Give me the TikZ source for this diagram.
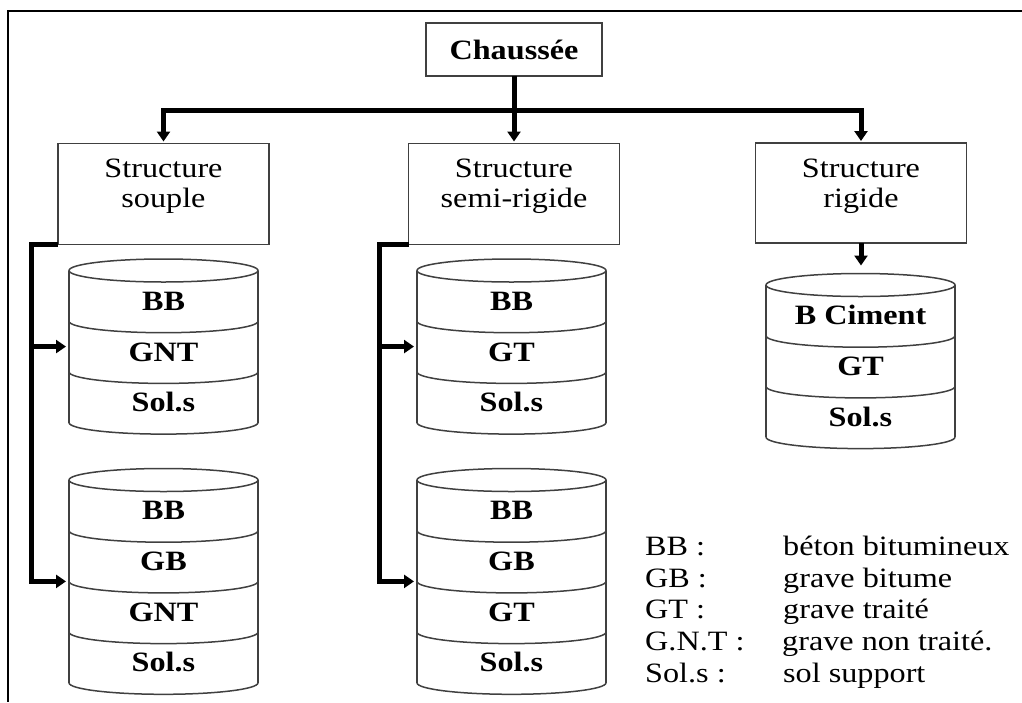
\documentclass[tikz,border=0pt]{standalone}
\usepackage{fontspec}
\setmainfont{Liberation Serif}[FakeStretch=1.15]
\usetikzlibrary{arrows.meta,shapes.geometric}
\tikzset{
  frameline/.style={line width=2pt, black},
  boxline/.style={draw=black!75, line width=1.8pt},
  sbox/.style={boxline, minimum width=211pt, minimum height=101pt, inner sep=0pt, outer sep=0pt},
  ttxt/.style={align=center, font=\fontsize{28}{30}\selectfont, inner sep=0pt},
  trunk/.style={line width=5pt, black},
  conn/.style={line width=5pt, black, -{Triangle[width=13pt,length=10pt]}},
  cylline/.style={draw=black!75, line width=1.5pt},
  cylell/.style={ellipse, draw=black!75, line width=1.5pt, minimum width=189pt, minimum height=23pt, inner sep=0pt, outer sep=0pt},
  layer/.style={minimum width=189pt, minimum height=50.7pt, inner sep=0pt, outer sep=0pt, text height=29pt, text depth=0pt, font=\fontsize{28}{30}\selectfont\bfseries},
  legk/.style={anchor=base west, inner sep=0pt, font=\fontsize{28}{30}\selectfont},
}
% #1 name, #2 centre x, #3 top y, #4 number of layers, #5 labels
\newcommand{\drawcyl}[5]{%
  \draw[cylline] ({#2-94.5},#3) -- ({#2-94.5},{#3+#4*50.7});
  \draw[cylline] ({#2+94.5},#3) -- ({#2+94.5},{#3+#4*50.7});
  \node[cylell] (#1e) at (#2,#3) {};
  \foreach \lab [count=\k] in {#5} {
    \node[layer] (#1l\k) at (#2,{#3+(\k-0.5)*50.7}) {\lab};
    \draw[cylline] ({#2-94.5},{#3+\k*50.7}) arc[start angle=180,end angle=0,x radius=94.5,y radius=11.5];
  }
}
\begin{document}
\begin{tikzpicture}[x=1pt,y=1pt,yscale=-1]
\useasboundingbox (0,0) rectangle (1022,702);
\draw[frameline] (1022,11) -- (8,11) -- (8,702);

\node[boxline, minimum width=176pt, minimum height=53pt, inner sep=0pt, outer sep=0pt, font=\fontsize{28}{30}\selectfont\bfseries] (ch) at (514,49.5) {Chaussée};

\node[sbox] (s1) at (163.5,194) {};
\node[sbox] (s2) at (514,194) {};
\node[sbox, minimum height=100pt] (s3) at (861,193) {};
\node[ttxt] (t1) at (163.5,186) {Structure\\souple};
\node[ttxt] (t2) at (514,186) {Structure\\semi-rigide};
\node[ttxt] (t3) at (861,186) {Structure\\rigide};

\coordinate (bm) at (514,110);
\draw[trunk] (ch.south) -- (bm);
\draw[conn, shorten >=2pt] (bm) -| (s1.north);
\draw[conn, shorten >=2pt] (bm) -| (s3.north);
\draw[conn, shorten >=2pt] (bm) -- (s2.north);

\drawcyl{c1}{163.5}{270.5}{3}{BB,GNT,Sol.s}
\drawcyl{c2}{163.5}{480}{4}{BB,GB,GNT,Sol.s}
\drawcyl{c3}{511.5}{270.5}{3}{BB,GT,Sol.s}
\drawcyl{c4}{511.5}{480}{4}{BB,GB,GT,Sol.s}
\drawcyl{c5}{860.5}{285}{3}{B Ciment,GT,Sol.s}

\coordinate (k1) at (31,244.5);
\draw[conn, shorten >=3pt] (s1.south west) -- (k1) |- (c2l2.south west);
\draw[conn, shorten >=3pt] (k1 |- c1l2.west) -- (c1l2.west);
\coordinate (k2) at (379,244.5);
\draw[conn, shorten >=3pt] (s2.south west) -- (k2) |- (c4l2.south west);
\draw[conn, shorten >=3pt] (k2 |- c3l2.west) -- (c3l2.west);
\draw[conn, shorten >=8pt] (s3.south) -- (s3.south |- c5e.north);

\node[legk] (lk1) at (645,555) {BB :};
\node[legk] (lv1) at (783,555) {béton bitumineux};
\node[legk] (lk2) at (645,587) {GB :};
\node[legk] (lv2) at (783,587) {grave bitume};
\node[legk] (lk3) at (645,618.5) {GT :};
\node[legk] (lv3) at (783,618.5) {grave traité};
\node[legk] (lk4) at (645,650) {G.N.T :};
\node[legk] (lv4) at (782,650) {grave non traité.};
\node[legk] (lk5) at (645,682) {Sol.s :};
\node[legk] (lv5) at (783,682) {sol support};
\end{tikzpicture}
\end{document}
